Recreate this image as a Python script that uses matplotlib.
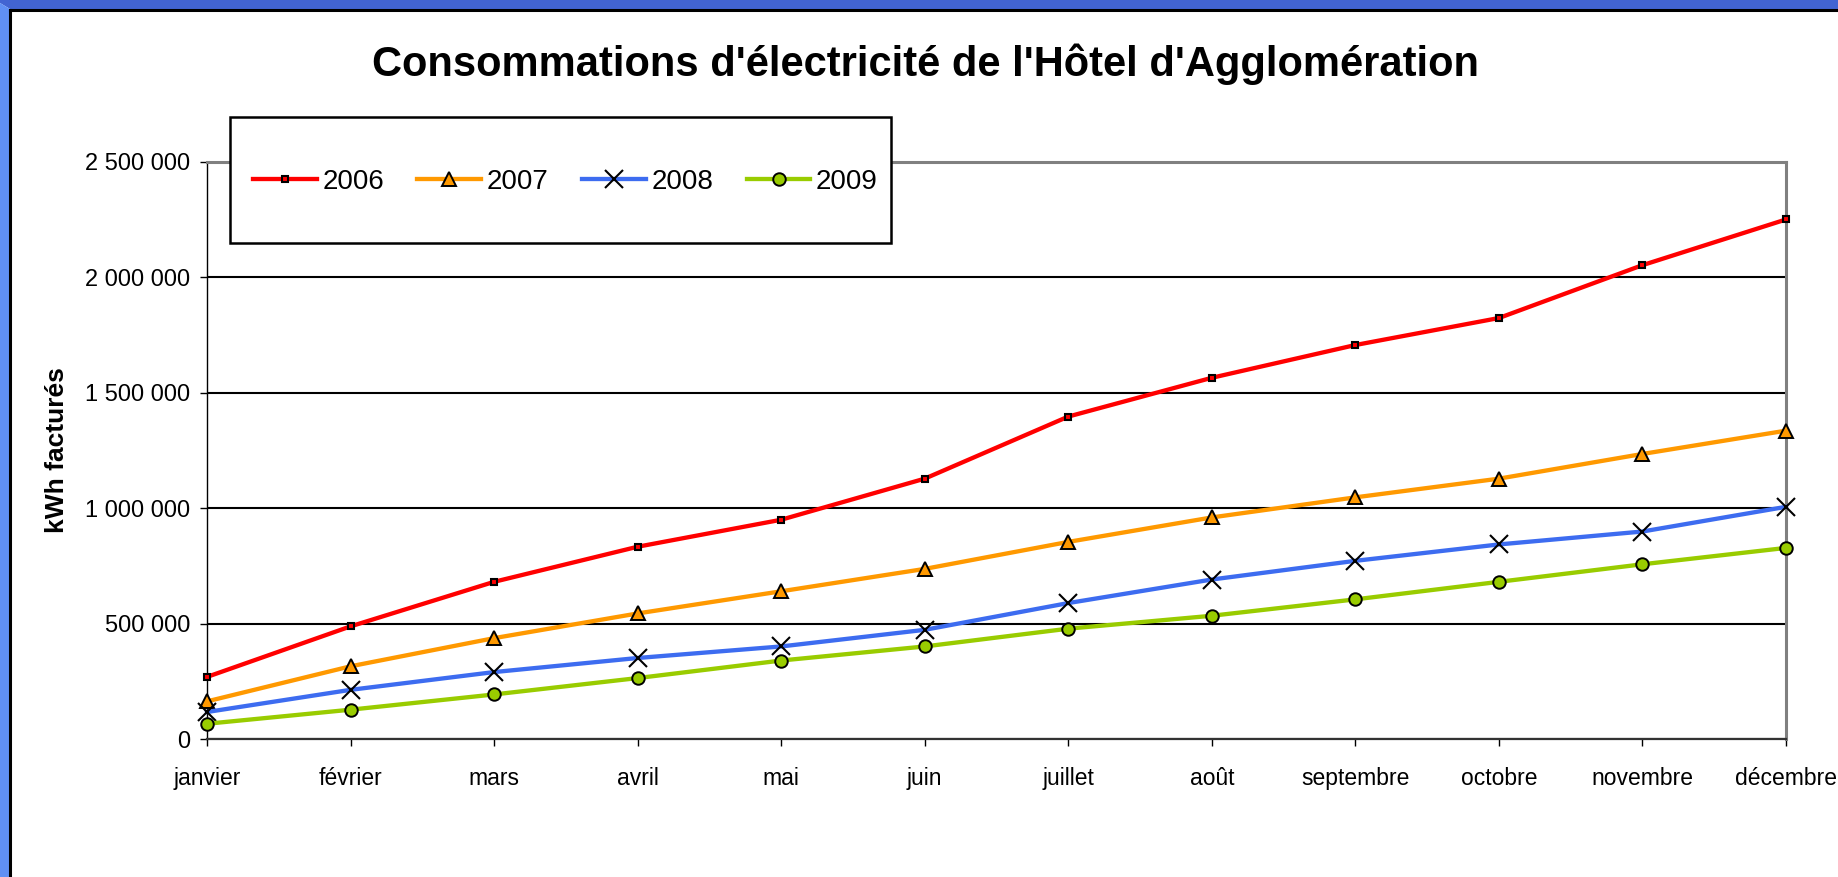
import matplotlib
matplotlib.use('Agg')
import matplotlib.pyplot as plt
from matplotlib.patches import Polygon, Rectangle
from matplotlib.ticker import FuncFormatter, MultipleLocator

plt.rcParams['font.family'] = ['Liberation Sans', 'DejaVu Sans']

# data (kWh, cumulative)
mois = ['janvier', 'février', 'mars', 'avril', 'mai', 'juin', 'juillet',
        'août', 'septembre', 'octobre', 'novembre', 'décembre']
annees = ['2006', '2007', '2008', '2009']
v2006 = [269000, 488000, 681000, 833000, 950000, 1128000, 1397000,
         1565000, 1707000, 1824000, 2053000, 2251000]
v2007 = [163000, 315000, 437000, 544000, 640000, 737000, 854000,
         960000, 1047000, 1128000, 1235000, 1336000]
v2008 = [117000, 213000, 290000, 351000, 401000, 473000, 589000,
         691000, 772000, 843000, 899000, 1006000]
v2009 = [66000, 127000, 193000, 264000, 340000, 401000, 478000,
         534000, 605000, 681000, 757000, 828000]

W, H = 1838, 877
fig = plt.figure(figsize=(W/100, H/100), dpi=100)
fig.patch.set_facecolor('white')

#blue frame on top and left, with black inner line
top = Polygon([(0, 1), (1, 1), (1, 1-9/H), (10/W, 1-9/H), (0, 1-3/H)], closed=True,
              transform=fig.transFigure, fc='#4264d2', ec='none', zorder=0)
left = Polygon([(0, 0), (0, 1-3/H), (10/W, 1-9/H), (9/W, 0)], closed=True,
               transform=fig.transFigure, fc='#6090f4', ec='none', zorder=0)
fig.patches.extend([top, left])
fig.add_artist(plt.Line2D([10/W, 1], [1-10/H, 1-10/H], color='black', lw=2.2, transform=fig.transFigure))
fig.add_artist(plt.Line2D([10/W, 10/W], [0, 1-10/H], color='black', lw=2.2, transform=fig.transFigure))

ax = fig.add_axes([207/W, 1-739/H, (1786-207)/W, (739-162)/H])
x = list(range(len(mois)))

styles = [
  (v2006, '#ff0000', dict(marker='s', markersize=5, markerfacecolor='#ff0000', markeredgecolor='black', markeredgewidth=1.5)),
  (v2007, '#ff9900', dict(marker='^', markersize=10.5, markerfacecolor='#ff9900', markeredgecolor='black', markeredgewidth=1.4)),
  (v2008, '#3d6cf0', dict(marker='x', markersize=13.5, markeredgecolor='black', markeredgewidth=1.5)),
  (v2009, '#99cc00', dict(marker='o', markersize=9, markerfacecolor='#99cc00', markeredgecolor='black', markeredgewidth=1.4)),
]
handles = []
for (vals, col, mk), lab in zip(styles, annees):
  h, = ax.plot(x, vals, color=col, lw=3.1, label=lab, clip_on=False, zorder=3, **mk)
  handles.append(h)

ax.set_xlim(0, 11)
ax.set_ylim(0, 2500000)
ax.yaxis.set_major_locator(MultipleLocator(500000))
ax.yaxis.set_major_formatter(FuncFormatter(lambda v, p: f"{int(v):,}".replace(",", " ")))
ax.set_xticks(x)
ax.set_xticklabels(mois)
ax.grid(axis='y', color='black', lw=1.5, zorder=1)
ax.set_axisbelow(True)

for s in ['top', 'right']:
  ax.spines[s].set_color('#808080')
  ax.spines[s].set_linewidth(2.2)
ax.spines['left'].set_color('black')
ax.spines['left'].set_linewidth(1.0)
ax.spines['bottom'].set_color('#333333')
ax.spines['bottom'].set_linewidth(1.6)

ax.tick_params(axis='y', length=5, width=1, pad=7, labelsize=17)
ax.tick_params(axis='x', length=5, width=1, pad=15, labelsize=16.5)
ax.set_ylabel('kWh facturés', fontsize=19, fontweight='bold', labelpad=12)

fig.text(926/W, 1-64/H, "Consommations d'électricité de l'Hôtel d'Agglomération",
         ha='center', va='center', fontsize=30, fontweight='bold')

#legend box
fig.patches.append(Rectangle((230/W, 1-243/H), (891-230)/W, (243-117)/H, transform=fig.transFigure,
                             fc='white', ec='black', lw=1.8, zorder=4))
fig.legend(handles=handles, labels=annees, ncol=4, loc='center left',
           bbox_to_anchor=(239/W, 1-182/H), frameon=False, fontsize=20, borderpad=0,
           handlelength=2.3, handletextpad=0.2, columnspacing=1.2).set_zorder(5)

plt.savefig('out.png', dpi=100)
